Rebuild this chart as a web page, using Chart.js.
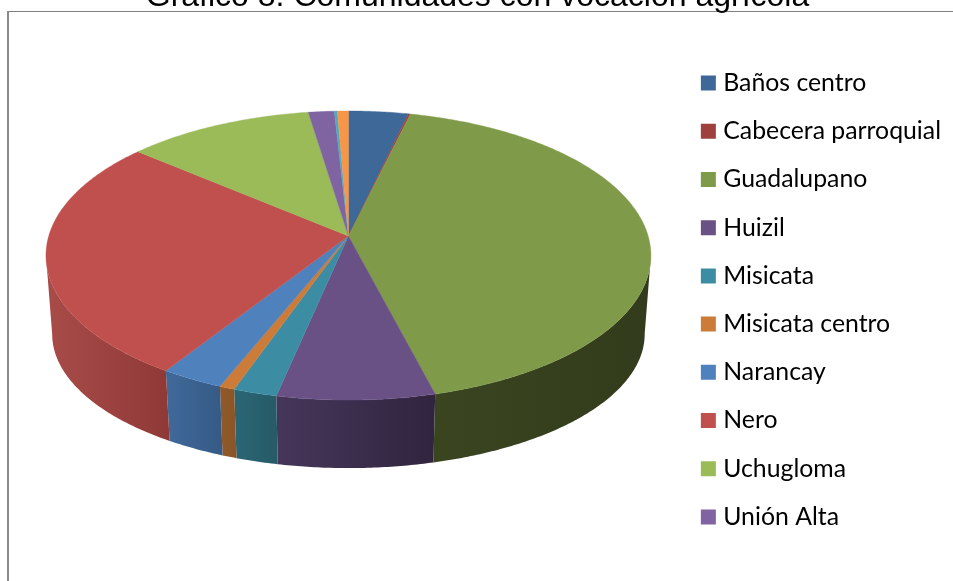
<!DOCTYPE html>
<html>
<head>
<meta charset="utf-8">
<title>Gráfico 8</title>
<script src="https://cdn.jsdelivr.net/npm/chart.js@4"></script>
<style>
html, body { margin: 0; padding: 0; background: #fff; overflow: hidden; }
#frame { position: absolute; left: 7px; top: 11px; width: 1200px; height: 900px; border-left: 2px solid #8a8a8a; border-top: 1px solid #808080; }
#wrap { position: absolute; left: 0; top: 0; width: 953px; height: 581px; }
</style>
</head>
<body>
<div id="frame"></div>
<div id="wrap"><canvas id="myChart"></canvas></div>
<script>
var chart_title = 'Gráfico 8. Comunidades con vocación agrícola';
// the picture's legend only shows ten names, the last two slices have none
var labels = ['Baños centro', 'Cabecera parroquial', 'Guadalupano', 'Huizil', 'Misicata', 'Misicata centro', 'Narancay', 'Nero', 'Uchugloma', 'Unión Alta'];
var values = [3.64, 0.12, 42.2, 7.4, 2.05, 0.72, 2.96, 27.1, 11.4, 1.58, 0.18, 0.67];
var colours = ['#3e6898', '#9e413e', '#7f9a48', '#695185', '#3c8da3', '#cc7b38', '#4f81bd', '#c0504d', '#9bbb59', '#8064a2', '#4bacc6', '#f79646'];
var side_left = ['#2f4f73', '#77312f', '#3a4520', '#46375a', '#2b6675', '#91592a', '#40699a', '#a84c49', '#6f8640', '#5c4874', '#367b8e', '#b26c32'];
var side_right = ['#2f4f73', '#77312f', '#323b1b', '#30243f', '#265a66', '#8a5526', '#355a85', '#8f3937', '#6f8640', '#5c4874', '#367b8e', '#b26c32'];

// perspective of the disc: a, b in units of the arc radius, dx, dy in px from the arc centre
var radius = 150;
var depth_q = 0.135;
var top_face = { a: 1.998, b: 0.946, dx: 5.2, dy: -64 };
var bottom_face = { a: 1.957, b: 0.877, dx: 5.2, dy: 16 };

function project(arc, face, angle) {
    let X = Math.cos(angle);
    let Y = Math.sin(angle);
    let w = 1 - depth_q * Y;
    return {
        x: arc.x + face.dx + radius * face.a * X / w,
        y: arc.y + face.dy + radius * face.b * Y / w
    };
}

function rim(arc, face, from, to) {
    let pts = [];
    let n = Math.max(2, Math.ceil(Math.abs(to - from) / 0.01));
    for (let i = 0; i <= n; i++) {
        pts.push(project(arc, face, from + (to - from) * i / n));
    }
    return pts;
}

function trace(ctx, pts) {
    ctx.beginPath();
    pts.forEach(function (p, i) {
        if (i == 0) ctx.moveTo(p.x, p.y);
        else ctx.lineTo(p.x, p.y);
    });
    ctx.closePath();
}

var pie3d = {
    id: 'pie3d',
    beforeDatasetsDraw: function (chart) {
        let ctx = chart.ctx;
        let arcs = chart.getDatasetMeta(0).data;
        // the wall only shows between the two points where the rim turns back
        let edge = Math.asin(depth_q);
        ctx.save();
        arcs.forEach(function (arc, i) {
            let from = Math.max(arc.startAngle, edge);
            let to = Math.min(arc.endAngle, Math.PI - edge);
            if (to <= from) return;
            let pts = rim(arc, top_face, from, to).concat(rim(arc, bottom_face, to, from));
            let xs = pts.map(function (p) { return p.x; });
            let g = ctx.createLinearGradient(Math.min.apply(null, xs), 0, Math.max.apply(null, xs), 0);
            g.addColorStop(0, side_left[i]);
            g.addColorStop(1, side_right[i]);
            trace(ctx, pts);
            ctx.fillStyle = g;
            ctx.fill();
        });
        arcs.forEach(function (arc, i) {
            let apex = { x: arc.x + top_face.dx, y: arc.y + top_face.dy };
            trace(ctx, [apex].concat(rim(arc, top_face, arc.startAngle, arc.endAngle)));
            ctx.fillStyle = colours[i];
            ctx.strokeStyle = colours[i];
            ctx.lineWidth = 0.4;
            ctx.fill();
            ctx.stroke();
        });
        ctx.restore();
        return false;
    }
};

var chart = new Chart(document.getElementById('myChart'), {
    type: 'pie',
    data: {
        labels: labels,
        datasets: [{
            data: values,
            backgroundColor: colours,
            borderWidth: 0,
            radius: radius
        }]
    },
    plugins: [pie3d],
    options: {
        responsive: true,
        maintainAspectRatio: false,
        animation: false,
        layout: { padding: { left: 4, right: 2, top: 0, bottom: 0 } },
        plugins: {
            title: {
                display: true,
                text: chart_title,
                color: '#000',
                font: { family: '"Liberation Sans"', size: 32, weight: 'normal' },
                padding: { top: -22, bottom: 2.6 }
            },
            legend: {
                position: 'right',
                fullSize: false,
                labels: {
                    // thick stroke on a small box, so the text sits close to the square
                    boxWidth: 5,
                    boxHeight: 5,
                    color: '#000',
                    font: { family: 'Lato', size: 24.8 },
                    padding: 23.4,
                    generateLabels: function () {
                        return labels.map(function (name, i) {
                            return { text: name, fillStyle: colours[i], strokeStyle: colours[i], lineWidth: 10, index: i };
                        });
                    }
                }
            },
            tooltip: { enabled: false }
        }
    }
});
</script>
</body>
</html>
